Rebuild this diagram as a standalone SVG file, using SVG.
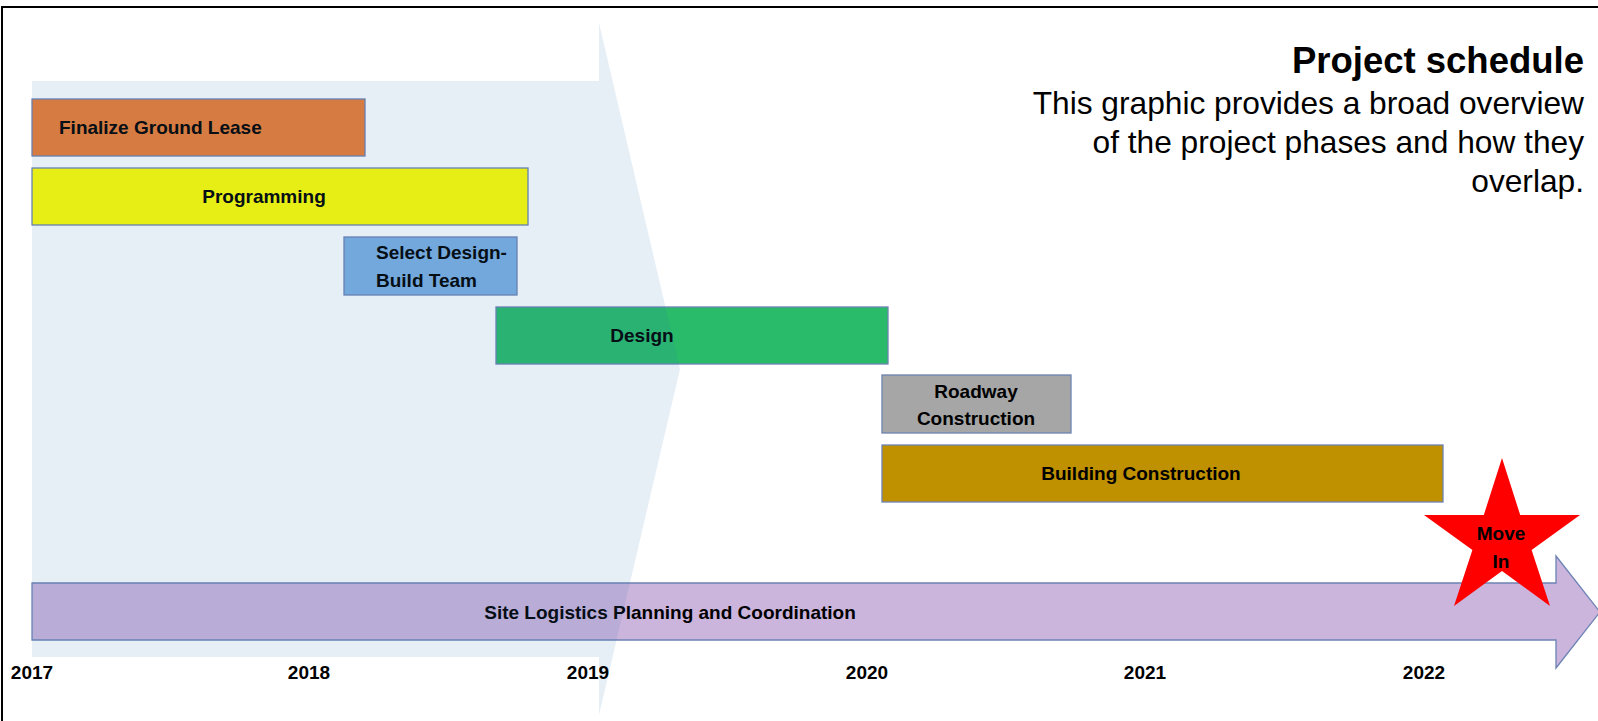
<svg xmlns="http://www.w3.org/2000/svg" width="1598" height="721" viewBox="0 0 1598 721">
<style>
.bar{stroke:#6D83B3;stroke-width:1.3}
.lbl{font-family:"Liberation Sans",Arial,sans-serif;font-weight:bold;font-size:19px;fill:#000}
.mid{text-anchor:middle}
.title{font-family:"Liberation Sans",Arial,sans-serif;font-weight:bold;font-size:36.5px;fill:#000;text-anchor:end}
.body{font-family:"Liberation Sans",Arial,sans-serif;font-size:31.7px;fill:#000;text-anchor:end}
</style>
<rect width="1598" height="721" fill="#fff"/>
<path d="M2,721 V7 H1598" fill="none" stroke="#000" stroke-width="2"/>
<g id="title">
<text class="title" x="1584" y="73">Project schedule</text>
<text class="body" x="1584" y="114">This graphic provides a broad overview</text>
<text class="body" x="1584" y="153">of the project phases and how they</text>
<text class="body" x="1584" y="192">overlap.</text>
</g>
<g id="finalize-ground-lease">
<rect class="bar" x="32" y="99" width="333" height="57" fill="#ED7D31"/>
<text class="lbl" x="59" y="134">Finalize Ground Lease</text>
</g>
<g id="programming">
<rect class="bar" x="32" y="168" width="496" height="57" fill="#FFFF00"/>
<text class="lbl mid" x="264" y="203">Programming</text>
</g>
<g id="select-design-build-team">
<rect class="bar" x="344" y="237" width="173" height="58" fill="#7DB0E2"/>
<text class="lbl" x="376" y="259">Select Design-</text>
<text class="lbl" x="376" y="287">Build Team</text>
</g>
<g id="design">
<rect class="bar" x="496" y="307" width="392" height="57" fill="#2ABB6A"/>
<text class="lbl mid" x="642" y="342">Design</text>
</g>
<g id="roadway-construction">
<rect class="bar" x="882" y="375" width="189" height="58" fill="#A6A6A6"/>
<text class="lbl mid" x="976" y="398">Roadway</text>
<text class="lbl mid" x="976" y="425">Construction</text>
</g>
<g id="building-construction">
<rect class="bar" x="882" y="445" width="561" height="57" fill="#BF9000"/>
<text class="lbl mid" x="1141" y="480">Building Construction</text>
</g>
<g id="site-logistics">
<path class="bar" d="M32,583 H1556 V556 L1600,612 L1556,668 V640 H32 Z" fill="#CCB5DD"/>
<text class="lbl mid" x="670" y="619">Site Logistics Planning and Coordination</text>
</g>
<g id="move-in">
<polygon points="1502,458 1520.2,515 1580,515 1531.6,550 1550,606 1502,571 1454,606 1472.4,550 1424,515 1483.8,515" fill="#FF0000"/>
<text class="lbl mid" x="1501" y="540">Move</text>
<text class="lbl mid" x="1501" y="568">In</text>
</g>
<g id="phase-2017-2019">
<path d="M32,81 H599 V23 L680,369 L599,715 V657 H32 Z" fill="#2E75B6" fill-opacity="0.12"/>
</g>
<g id="years">
<text class="lbl mid" x="32" y="679">2017</text>
<text class="lbl mid" x="309" y="679">2018</text>
<text class="lbl mid" x="588" y="679">2019</text>
<text class="lbl mid" x="867" y="679">2020</text>
<text class="lbl mid" x="1145" y="679">2021</text>
<text class="lbl mid" x="1424" y="679">2022</text>
</g>
<g id="connectors"/>
</svg>
